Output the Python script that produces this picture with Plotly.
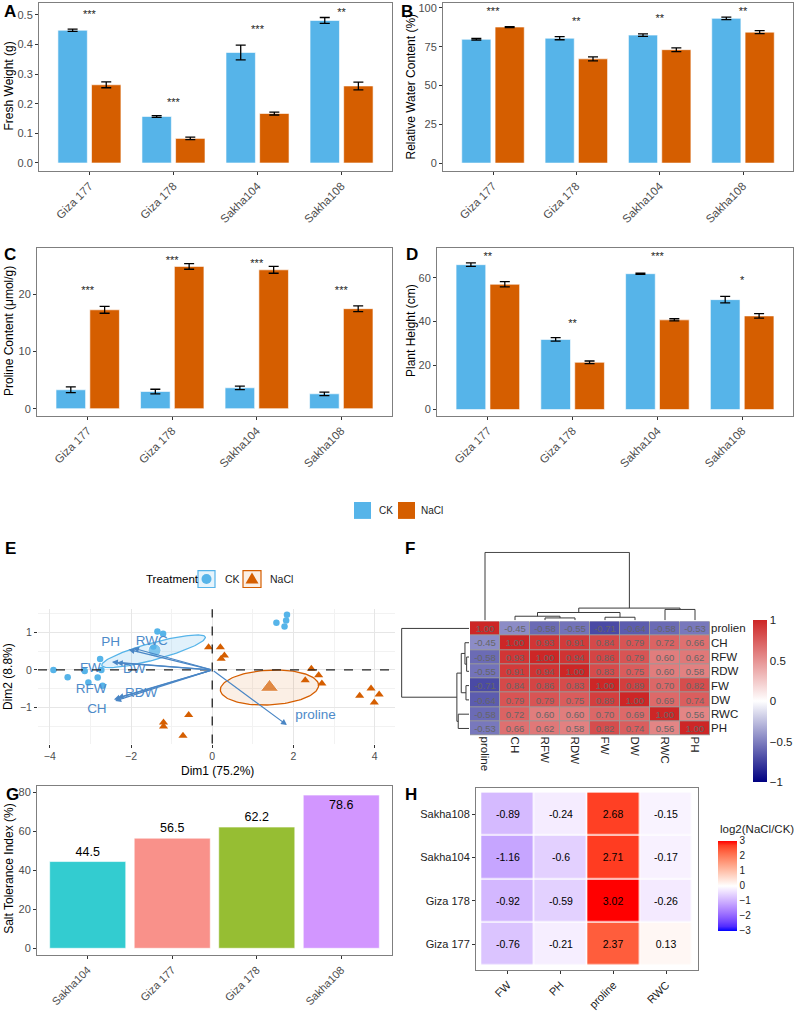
import numpy as np
import plotly.graph_objects as go

W, H = 794, 1011
def X(px): return px / W
def Y(py): return 1 - py / H
def dom_x(a, b): return [X(a), X(b)]
def dom_y(top, bottom): return [Y(bottom), Y(top)]

FONT = "Liberation Sans, Arial, sans-serif"
CK_COL = "#56B4E9"
NACL_COL = "#D55E00"
GREY30 = "#4D4D4D"
BORDER = "#7F7F7F"
ARROW_COL = "#4A86C5"

# ---------------- data: panels A-D ----------------
varieties = ["Giza 177", "Giza 178", "Sakha104", "Sakha108"]

fw_ck = [0.448, 0.157, 0.373, 0.481]
fw_ck_se = [0.004, 0.003, 0.025, 0.010]
fw_nacl = [0.264, 0.083, 0.167, 0.260]
fw_nacl_se = [0.010, 0.004, 0.005, 0.013]
fw_sig = ["***", "***", "***", "**"]
fw_sig_y = [0.500, 0.200, 0.447, 0.505]

rwc_ck = [79.8, 80.5, 82.5, 93.3]
rwc_ck_se = [0.5, 1.0, 0.8, 0.8]
rwc_nacl = [87.7, 67.2, 73.1, 84.4]
rwc_nacl_se = [0.3, 1.3, 1.2, 1.0]
rwc_sig = ["***", "**", "**", "**"]
rwc_sig_y = [97.5, 90.8, 92.7, 97.5]

pro_ck = [3.3, 3.0, 3.65, 2.6]
pro_ck_se = [0.5, 0.4, 0.3, 0.3]
pro_nacl = [17.3, 24.9, 24.3, 17.5]
pro_nacl_se = [0.6, 0.5, 0.6, 0.5]
pro_sig = ["***", "***", "***", "***"]
pro_sig_y = [20.5, 25.8, 25.3, 20.5]
pro_sig_extra = ["***"]
pro_sig_extra_x = ["Sakha104"]
pro_sig_extra_y = [27.9]

ph_ck = [65.9, 31.9, 61.8, 50.0]
ph_ck_se = [0.8, 0.8, 0.3, 1.5]
ph_nacl = [57.0, 21.5, 40.8, 42.6]
ph_nacl_se = [1.2, 0.6, 0.5, 1.0]
ph_sig = ["**", "**", "***", "*"]
ph_sig_y = [69.5, 38.6, 69.5, 58.5]

# ---------------- data: panel E (PCA) ----------------
ck_pc1 = [-3.91, -3.56, -3.14, -3.05, -2.82, -2.76, -2.73, -2.70, -1.35, -1.21, -1.45, 1.58, 1.84, 1.82, 1.78]
ck_pc2 = [0.00, -0.19, -0.03, -0.33, -0.20, 0.29, 0.00, -0.42, 1.02, 0.96, 0.62, 1.25, 1.46, 1.31, 1.15]
nacl_pc1 = [-0.09, 0.20, 0.30, 0.22, 2.44, 2.62, 2.29, 2.70, 3.63, 3.91, 4.11, 3.99, -1.20, -1.20, -0.58, -0.72]
nacl_pc2 = [0.60, 0.60, 0.38, 0.30, 0.03, -0.14, -0.27, -0.36, -0.68, -0.49, -0.65, -0.86, -1.39, -1.50, -1.19, -1.74]
centroid_pc1 = [-1.42, 1.41]
centroid_pc2 = [0.52, -0.46]
# ellipses: centre, major semi-axis vector, minor semi-axis vector
ck_ellipse = [(-1.445, 0.495), (1.275, 0.375), (-0.062, 0.215)]
nacl_ellipse = [(1.41, -0.465), (1.21, 0.065), (-0.02, 0.46)]

load_vars = ["PH", "RWC", "FW", "DW", "RFW", "RDW", "CH", "proline"]
load_pc1 = [-2.06, -1.95, -2.47, -2.35, -2.42, -2.33, -2.39, 1.84]
load_pc2 = [0.54, 0.58, 0.21, 0.19, -0.78, -0.74, -0.82, -1.46]
label_pc1 = [-2.50, -1.49, -3.00, -1.92, -2.98, -1.75, -2.84, 2.54]
label_pc2 = [0.72, 0.75, 0.03, 0.02, -0.53, -0.64, -1.06, -1.22]

# ---------------- data: panel F (correlation heatmap) ----------------
corr_cols = ["proline", "CH", "RFW", "RDW", "FW", "DW", "RWC", "PH"]
corr_rows = ["prolien", "CH", "RFW", "RDW", "FW", "DW", "RWC", "PH"]
corr_vals = [
    [1.00, -0.45, -0.58, -0.55, -0.71, -0.64, -0.58, -0.53],
    [-0.45, 1.00, 0.93, 0.91, 0.84, 0.79, 0.72, 0.66],
    [-0.58, 0.93, 1.00, 0.94, 0.86, 0.79, 0.60, 0.62],
    [-0.55, 0.91, 0.94, 1.00, 0.83, 0.75, 0.60, 0.58],
    [-0.71, 0.84, 0.86, 0.83, 1.00, 0.89, 0.70, 0.82],
    [-0.64, 0.79, 0.79, 0.75, 0.89, 1.00, 0.69, 0.74],
    [-0.58, 0.72, 0.60, 0.60, 0.70, 0.69, 1.00, 0.56],
    [-0.53, 0.66, 0.62, 0.58, 0.82, 0.74, 0.56, 1.00],
]
# dendrogram merges: (left, right, height); ints refer to earlier merges
dendro_merges = [
    ("RFW", "RDW", 0.035),
    ("CH", 0, 0.06),
    ("FW", "DW", 0.045),
    (1, 2, 0.115),
    ("RWC", "PH", 0.16),
    (3, 4, 0.18),
    ("proline", 5, 1.0),
]

# ---------------- data: panel G ----------------
sti_varieties = ["Sakha104", "Giza 177", "Giza 178", "Sakha108"]
sti_values = [44.5, 56.5, 62.2, 78.6]
sti_colors = ["#33CCD0", "#F9918A", "#96BE33", "#D296FF"]

# ---------------- data: panel H ----------------
lfc_vars = ["FW", "PH", "proline", "RWC"]
lfc_varieties = ["Giza 177", "Giza 178", "Sakha104", "Sakha108"]
lfc_vals = [
    [-0.76, -0.21, 2.37, 0.13],
    [-0.92, -0.59, 3.02, -0.26],
    [-1.16, -0.6, 2.71, -0.17],
    [-0.89, -0.24, 2.68, -0.15],
]

# ---------------- helpers ----------------
def _to_lin(c):
    c = c / 255
    return c / 12.92 if c <= 0.04045 else ((c + 0.055) / 1.055) ** 2.4

def _to_srgb(c):
    c = min(1, max(0, c))
    v = 12.92 * c if c <= 0.0031308 else 1.055 * c ** (1 / 2.4) - 0.055
    return int(round(v * 255))

def hex_to_lab(h):
    r, g, b = [_to_lin(int(h[i:i + 2], 16)) for i in (1, 3, 5)]
    Xv = 0.4124 * r + 0.3576 * g + 0.1805 * b
    Yv = 0.2126 * r + 0.7152 * g + 0.0722 * b
    Zv = 0.0193 * r + 0.1192 * g + 0.9505 * b
    f = lambda t: t ** (1 / 3) if t > 0.008856 else 7.787 * t + 16 / 116
    fx, fy, fz = f(Xv / 0.95047), f(Yv), f(Zv / 1.08883)
    return 116 * fy - 16, 500 * (fx - fy), 200 * (fy - fz)

def lab_to_hex(L, a, b):
    fy = (L + 16) / 116
    fx = fy + a / 500
    fz = fy - b / 200
    finv = lambda t: t ** 3 if t ** 3 > 0.008856 else (t - 16 / 116) / 7.787
    Xv, Yv, Zv = 0.95047 * finv(fx), finv(fy), 1.08883 * finv(fz)
    r = 3.2406 * Xv - 1.5372 * Yv - 0.4986 * Zv
    g = -0.9689 * Xv + 1.8758 * Yv + 0.0415 * Zv
    bb = 0.0557 * Xv - 0.2040 * Yv + 1.0570 * Zv
    return "#%02x%02x%02x" % (_to_srgb(r), _to_srgb(g), _to_srgb(bb))

def lab_scale(low, mid, high, n=10):
    l0, l1, l2 = hex_to_lab(low), hex_to_lab(mid), hex_to_lab(high)
    stops = []
    for i in range(n + 1):
        t = i / n
        stops.append([t / 2, lab_to_hex(*[l0[k] + (l1[k] - l0[k]) * t for k in range(3)])])
    for i in range(1, n + 1):
        t = i / n
        stops.append([0.5 + t / 2, lab_to_hex(*[l1[k] + (l2[k] - l1[k]) * t for k in range(3)])])
    return stops

def axn(n):
    return ("x" if n == 1 else f"x{n}"), ("y" if n == 1 else f"y{n}")

def lk(n, l):
    return f"{l}axis" if n == 1 else f"{l}axis{n}"

fig = go.Figure()
layout = {}
annotations = []
shapes = []

def note(text, px, py, size=12, color="black", angle=0, bold=False,
         xanchor="center", yanchor="middle"):
    annotations.append(dict(
        text=f"<b>{text}</b>" if bold else text, x=X(px), y=Y(py),
        xref="paper", yref="paper", showarrow=False, textangle=angle,
        font=dict(size=size, color=color, family=FONT),
        xanchor=xanchor, yanchor=yanchor))

# ---------------- panels A-D ----------------
bar_panels = [
    (1, fw_ck, fw_ck_se, fw_nacl, fw_nacl_se, fw_sig, fw_sig_y,
     (39, 392, 2, 171), [-0.027, 0.54], [0, 0.1, 0.2, 0.3, 0.4, 0.5], ".1f"),
    (2, rwc_ck, rwc_ck_se, rwc_nacl, rwc_nacl_se, rwc_sig, rwc_sig_y,
     (443, 793, 2, 171), [-5.1, 103.2], [0, 25, 50, 75, 100], None),
    (3, pro_ck, pro_ck_se, pro_nacl, pro_nacl_se, pro_sig, pro_sig_y,
     (37, 392, 248, 417), [-1.2, 28.2], [0, 10, 20], None),
    (4, ph_ck, ph_ck_se, ph_nacl, ph_nacl_se, ph_sig, ph_sig_y,
     (437, 793, 248, 417), [-2.7, 73.7], [0, 20, 40, 60], None),
]

for n, ck, ckse, na, nase, sig, sigy, box, yr, tv, fmt in bar_panels:
    xa, ya = axn(n)
    fig.add_trace(go.Bar(x=varieties, y=ck, width=0.35, offset=-0.375,
                         marker=dict(color=CK_COL, line=dict(color="white", width=0.6)),
                         error_y=dict(type="data", array=ckse, color="black", thickness=1.3, width=5),
                         xaxis=xa, yaxis=ya, showlegend=False))
    fig.add_trace(go.Bar(x=varieties, y=na, width=0.35, offset=0.025,
                         marker=dict(color=NACL_COL, line=dict(color="white", width=0.6)),
                         error_y=dict(type="data", array=nase, color="black", thickness=1.3, width=5),
                         xaxis=xa, yaxis=ya, showlegend=False))
    fig.add_trace(go.Scatter(x=varieties, y=sigy, text=sig, mode="text",
                             textfont=dict(size=11, color="#222", family=FONT),
                             cliponaxis=True, xaxis=xa, yaxis=ya, showlegend=False))
    if n == 3:
        fig.add_trace(go.Scatter(x=pro_sig_extra_x, y=pro_sig_extra_y, text=pro_sig_extra,
                                 mode="text", textfont=dict(size=11, color="#222", family=FONT),
                                 cliponaxis=True, xaxis=xa, yaxis=ya, showlegend=False))
    x0, x1, t, b = box
    layout[lk(n, "x")] = dict(domain=dom_x(x0, x1), anchor=ya, range=[-0.6, 3.6],
                              showline=True, linecolor=BORDER, linewidth=1, mirror=True,
                              ticks="outside", ticklen=3, tickcolor="#333", tickangle=-45,
                              tickfont=dict(size=11.5, color=GREY30, family=FONT),
                              showgrid=False, zeroline=False)
    yax = dict(domain=dom_y(t, b), anchor=xa, range=yr, tickvals=tv,
               showline=True, linecolor=BORDER, linewidth=1, mirror=True,
               ticks="outside", ticklen=3, tickcolor="#333",
               tickfont=dict(size=11, color=GREY30, family=FONT),
               showgrid=False, zeroline=False)
    if fmt:
        yax["tickformat"] = fmt
    layout[lk(n, "y")] = yax

note("Fresh Weight (g)", 9, 86, angle=-90)
note("Relative Water Content (%)", 411, 86, angle=-90)
note("Proline Content (μmol/g)", 9, 332, angle=-90)
note("Plant Height (cm)", 411, 332, angle=-90)

# legend for A-D
shapes.append(dict(type="rect", xref="paper", yref="paper", x0=X(354), x1=X(371), y0=Y(521), y1=Y(504),
                   fillcolor=CK_COL, line=dict(width=0)))
shapes.append(dict(type="rect", xref="paper", yref="paper", x0=X(398), x1=X(415), y0=Y(521), y1=Y(504),
                   fillcolor=NACL_COL, line=dict(width=0)))
note("CK", 377, 513, size=10, color="#222", xanchor="left")
note("NaCl", 419, 513, size=10, color="#222", xanchor="left")

# ---------------- panel E ----------------
xa, ya = axn(5)
theta = np.linspace(0, 2 * np.pi, 120)
for ell, col, fill in [(ck_ellipse, CK_COL, "rgba(86,180,233,0.18)"),
                       (nacl_ellipse, NACL_COL, "rgba(213,94,0,0.10)")]:
    (cx, cy), (ux, uy), (vx, vy) = ell
    ex = cx + ux * np.cos(theta) + vx * np.sin(theta)
    ey = cy + uy * np.cos(theta) + vy * np.sin(theta)
    fig.add_trace(go.Scatter(x=ex, y=ey, mode="lines", fill="toself", fillcolor=fill,
                             line=dict(color=col, width=1.3), xaxis=xa, yaxis=ya,
                             showlegend=False, hoverinfo="skip"))
fig.add_trace(go.Scatter(x=ck_pc1, y=ck_pc2, mode="markers",
                         marker=dict(color=CK_COL, size=6.5, symbol="circle"),
                         xaxis=xa, yaxis=ya, showlegend=False))
fig.add_trace(go.Scatter(x=nacl_pc1, y=nacl_pc2, mode="markers",
                         marker=dict(color=NACL_COL, size=8, symbol="triangle-up"),
                         xaxis=xa, yaxis=ya, showlegend=False))
fig.add_trace(go.Scatter(x=centroid_pc1, y=centroid_pc2, mode="markers",
                         marker=dict(color=[CK_COL, NACL_COL], size=[13, 16],
                                     symbol=["circle", "triangle-up"]),
                         xaxis=xa, yaxis=ya, showlegend=False))
for vx_, vy_ in zip(load_pc1, load_pc2):
    annotations.append(dict(x=vx_, y=vy_, ax=0, ay=0, xref=xa, yref=ya, axref=xa, ayref=ya,
                            text="", showarrow=True, arrowhead=2, arrowsize=1, arrowwidth=1.2,
                            arrowcolor=ARROW_COL, standoff=0))
fig.add_trace(go.Scatter(x=label_pc1, y=label_pc2, text=load_vars, mode="text",
                         textfont=dict(size=13.5, color="#4D8AC9", family=FONT),
                         xaxis=xa, yaxis=ya, showlegend=False, cliponaxis=False))
shapes.append(dict(type="line", xref=xa, yref=f"{ya} domain", x0=0, x1=0, y0=0, y1=1,
                   line=dict(color="#222", width=1.3, dash="dash")))
shapes.append(dict(type="line", xref=f"{xa} domain", yref=ya, x0=0, x1=1, y0=0, y1=0,
                   line=dict(color="#222", width=1.3, dash="dash")))
layout[lk(5, "x")] = dict(domain=dom_x(38, 395), anchor=ya, range=[-4.29, 4.5], tick0=0, dtick=2,
                          showgrid=True, gridcolor="#E6E6E6", gridwidth=1,
                          minor=dict(dtick=1, showgrid=True, gridcolor="#F2F2F2", gridwidth=0.7),
                          zeroline=False, showline=False, ticks="outside", ticklen=3, tickcolor="#333",
                          tickfont=dict(size=10.5, color=GREY30, family=FONT))
layout[lk(5, "y")] = dict(domain=dom_y(612, 747), anchor=xa, range=[-1.95, 1.605], tick0=0, dtick=1,
                          showgrid=True, gridcolor="#E6E6E6", gridwidth=1,
                          minor=dict(dtick=0.5, showgrid=True, gridcolor="#F2F2F2", gridwidth=0.7),
                          zeroline=False, showline=False, ticks="outside", ticklen=3, tickcolor="#333",
                          tickfont=dict(size=10.5, color=GREY30, family=FONT))
note("Dim1 (75.2%)", 217, 775, size=12)
note("Dim2 (8.8%)", 8, 680, size=12, angle=-90)

# legend for E
note("Treatment", 144, 581, size=11.5, xanchor="left")
shapes.append(dict(type="rect", xref="paper", yref="paper", x0=X(198), x1=X(215), y0=Y(590), y1=Y(573),
                   fillcolor="rgba(86,180,233,0.15)", line=dict(color=CK_COL, width=1.2)))
shapes.append(dict(type="circle", xref="paper", yref="paper", x0=X(201.5), x1=X(211.5), y0=Y(586.5), y1=Y(576.5),
                   fillcolor=CK_COL, line=dict(width=0)))
note("CK", 223, 581, size=10.5, color="#222", xanchor="left")
shapes.append(dict(type="rect", xref="paper", yref="paper", x0=X(243), x1=X(261), y0=Y(590), y1=Y(573),
                   fillcolor="rgba(213,94,0,0.10)", line=dict(color=NACL_COL, width=1.2)))
shapes.append(dict(type="path", xref="paper", yref="paper",
                   path=f"M {X(245.5)},{Y(586)} L {X(258.5)},{Y(586)} L {X(252)},{Y(575)} Z",
                   fillcolor=NACL_COL, line=dict(width=0)))
note("NaCl", 268, 581, size=10.5, color="#222", xanchor="left")

# ---------------- panel F ----------------
xa, ya = axn(6)
shapes.append(dict(type="rect", xref=xa, yref=ya, x0=-0.5, x1=7.5, y0=-0.5, y1=7.5,
                   fillcolor="#9A9A9A", line=dict(width=0), layer="below"))
fig.add_trace(go.Heatmap(
    z=corr_vals, x=list(range(8)), y=list(range(8)), zmin=-1, zmax=1,
    colorscale=[[0, "#000080"], [0.5, "#FFFFFF"], [1, "#CD2626"]],
    xgap=1, ygap=1, texttemplate="%{z:.2f}",
    textfont=dict(size=9.5, color="#666666", family=FONT),
    colorbar=dict(x=X(753), xanchor="left", y=Y(623), yanchor="top", len=162, lenmode="pixels",
                  thickness=14, thicknessmode="pixels", xpad=0, ypad=0, outlinewidth=0,
                  tickvals=[-1, -0.5, 0, 0.5, 1], ticks="",
                  tickfont=dict(size=11.5, color="#222", family=FONT)),
    xaxis=xa, yaxis=ya, hoverinfo="skip"))
layout[lk(6, "x")] = dict(domain=dom_x(470, 710), anchor=ya, range=[-0.5, 7.5],
                          tickvals=list(range(8)), ticktext=corr_cols, tickangle=90, ticks="",
                          tickfont=dict(size=11.5, color="#222", family=FONT),
                          showgrid=False, zeroline=False, showline=False)
layout[lk(6, "y")] = dict(domain=dom_y(624, 739), anchor=xa, range=[7.5, -0.5], side="right",
                          tickvals=list(range(8)), ticktext=corr_rows, ticks="",
                          tickfont=dict(size=11.5, color="#222", family=FONT),
                          showgrid=False, zeroline=False, showline=False)

# dendrograms
pos = {name: i for i, name in enumerate(corr_cols)}
node = []
seg_pos, seg_h = [], []
def getp(k):
    if isinstance(k, int):
        return node[k]
    return (pos[k], 0.0)
for l, r, h in dendro_merges:
    pl, hl = getp(l)
    pr, hr = getp(r)
    seg_pos += [pl, pl, pr, pr, None]
    seg_h += [hl, h, h, hr, None]
    node.append(((pl + pr) / 2, h))

xa7, ya7 = axn(7)
fig.add_trace(go.Scatter(x=seg_pos, y=seg_h, mode="lines", line=dict(color="#3A3A3A", width=1),
                         xaxis=xa7, yaxis=ya7, showlegend=False, hoverinfo="skip"))
layout[lk(7, "x")] = dict(domain=dom_x(470, 710), anchor=ya7, range=[-0.5, 7.5], visible=False)
layout[lk(7, "y")] = dict(domain=dom_y(554, 623), anchor=xa7, range=[0, 1.01], visible=False)
xa8, ya8 = axn(8)
fig.add_trace(go.Scatter(x=seg_h, y=seg_pos, mode="lines", line=dict(color="#3A3A3A", width=1),
                         xaxis=xa8, yaxis=ya8, showlegend=False, hoverinfo="skip"))
layout[lk(8, "x")] = dict(domain=dom_x(401, 469), anchor=ya8, range=[1.01, 0], visible=False)
layout[lk(8, "y")] = dict(domain=dom_y(624, 739), anchor=xa8, range=[7.5, -0.5], visible=False)

# ---------------- panel G ----------------
xa, ya = axn(9)
fig.add_trace(go.Bar(x=sti_varieties, y=sti_values, width=0.9,
                     marker=dict(color=sti_colors, line=dict(color="white", width=0.6)),
                     text=[f"{v}" for v in sti_values],
                     textposition=["outside", "outside", "outside", "inside"],
                     insidetextanchor="end", constraintext="none", cliponaxis=False,
                     textfont=dict(size=12.5, color="black", family=FONT),
                     outsidetextfont=dict(size=12.5, color="black", family=FONT),
                     insidetextfont=dict(size=12.5, color="black", family=FONT),
                     xaxis=xa, yaxis=ya, showlegend=False))
layout[lk(9, "x")] = dict(domain=dom_x(37, 392), anchor=ya, range=[-0.6, 3.6],
                          showline=True, linecolor=BORDER, linewidth=1, mirror=True,
                          ticks="outside", ticklen=3, tickcolor="#333", tickangle=-45,
                          tickfont=dict(size=11, color=GREY30, family=FONT),
                          showgrid=False, zeroline=False)
layout[lk(9, "y")] = dict(domain=dom_y(790, 960), anchor=xa, range=[-3.6, 83.1],
                          tickvals=[0, 20, 40, 60, 80],
                          showline=True, linecolor=BORDER, linewidth=1, mirror=True,
                          ticks="outside", ticklen=3, tickcolor="#333",
                          tickfont=dict(size=11, color=GREY30, family=FONT),
                          showgrid=False, zeroline=False)
note("Salt Tolerance Index (%)", 9, 873, angle=-90)

# ---------------- panel H ----------------
xa, ya = axn(10)
fig.add_trace(go.Heatmap(
    z=lfc_vals, x=lfc_vars, y=lfc_varieties, zmin=-3, zmax=3,
    colorscale=lab_scale("#0000FF", "#FFFFFF", "#FF0000"),
    xgap=1.5, ygap=1.5,
    text=[[f"{v:g}" for v in row] for row in lfc_vals], texttemplate="%{text}",
    textfont=dict(size=10.5, color="black", family=FONT),
    colorbar=dict(x=X(718), xanchor="left", y=Y(845), yanchor="top", len=90, lenmode="pixels",
                  thickness=19, thicknessmode="pixels", xpad=0, ypad=0, outlinewidth=0,
                  tickvals=[-3, -2, -1, 0, 1, 2, 3], ticks="",
                  tickfont=dict(size=10, color="#222", family=FONT)),
    xaxis=xa, yaxis=ya, hoverinfo="skip"))
note("log2(NaCl/CK)", 718, 833, size=11.5, color="#222", xanchor="left")
layout[lk(10, "x")] = dict(domain=dom_x(476, 698), anchor=ya, range=[-0.6, 3.6],
                           showline=True, linecolor=BORDER, linewidth=1, mirror=True,
                           ticks="outside", ticklen=3, tickcolor="#333", tickangle=-45,
                           tickfont=dict(size=11, color="#222", family=FONT),
                           showgrid=False, zeroline=False)
layout[lk(10, "y")] = dict(domain=dom_y(792, 975), anchor=xa, range=[-0.6, 3.6],
                           showline=True, linecolor=BORDER, linewidth=1, mirror=True,
                           ticks="outside", ticklen=3, tickcolor="#333",
                           tickfont=dict(size=11, color="#222", family=FONT),
                           showgrid=False, zeroline=False)

# ---------------- panel labels ----------------
for lab, px, py in [("A", 10, 11), ("B", 407, 11), ("C", 10, 255), ("D", 412, 255),
                    ("E", 10, 551), ("F", 410, 551), ("G", 12, 798), ("H", 411, 798)]:
    note(lab, px, py, size=17, bold=True)

fig.update_layout(**layout)
fig.update_layout(width=W, height=H, margin=dict(l=0, r=0, t=0, b=0),
                  paper_bgcolor="white", plot_bgcolor="white", barmode="overlay",
                  font=dict(family=FONT), annotations=annotations, shapes=shapes,
                  showlegend=False)
fig.write_html("out.html")
